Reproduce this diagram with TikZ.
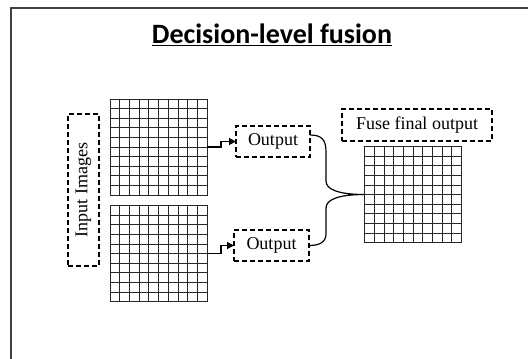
\documentclass[tikz,border=0pt]{standalone}
\usepackage{fontspec}
\setmainfont{Liberation Serif}
\newfontfamily\titlefont{Carlito}
\usetikzlibrary{calc,arrows.meta}
\begin{document}
\begin{tikzpicture}[x=1pt,y=-1pt,
  gridbox/.style={draw=black!85, line width=0.8pt, minimum width=97pt, minimum height=96pt, inner sep=0pt, outer sep=0pt},
  dbox/.style={draw, dash pattern=on 5pt off 3pt, line width=1.3pt, inner sep=0pt, outer sep=0pt},
  lbl/.style={font=\fontsize{18}{21}\selectfont, inner sep=0pt},
  conn/.style={line width=1.2pt},
  arr/.style={conn, -{Triangle[length=7pt,width=7pt]}}]
\useasboundingbox (0,0) rectangle (528,359);
\draw[line width=2.2pt, black!75] (11,359) -- (11,8) -- (528,8);
\node[font=\titlefont\bfseries\fontsize{28}{32}\selectfont, inner sep=0pt] (title) at (272,35) {\underline{Decision-level fusion}};
% grids
\node[gridbox] (g1) at (158.5,147) {};
\node[gridbox] (g2) at (158.5,253.5) {};
\node[gridbox] (g3) at (413,194.5) {};
\foreach \g in {g1,g2,g3}{
  \foreach \i in {1,...,9}{
    \draw[black!85, line width=0.8pt] ($(\g.north west)!\i/10!(\g.north east)$) -- ($(\g.south west)!\i/10!(\g.south east)$);
    \draw[black!85, line width=0.8pt] ($(\g.north west)!\i/10!(\g.south west)$) -- ($(\g.north east)!\i/10!(\g.south east)$);
  }
}
% dashed boxes
\node[dbox, minimum width=31pt, minimum height=152pt] (inp) at (83.5,190) {};
\node[lbl, rotate=90] (inptext) at (inp.center) {Input Images};
\node[dbox, minimum width=74pt, minimum height=31pt] (o1) at (273,141.5) {};
\node[lbl] (o1text) at (o1.center) {Output};
\node[dbox, minimum width=75pt, minimum height=31pt] (o2) at (271.5,245.5) {};
\node[lbl] (o2text) at (o2.center) {Output};
\node[dbox, minimum width=150pt, minimum height=32pt] (fuse) at (417,125) {};
\node[lbl] (fusetext) at (fuse.center) {Fuse final output};
% connectors
\draw[arr] (g1.east) -- ++(14,0) |- (o1.west);
\draw[arr] (g2.east) -- ++(14,0) |- (o2.west);
\coordinate (b1) at ($(o1.north east)+(0,9)$);
\draw[conn] (b1) .. controls (322,135) and (326,140) .. (326,152) -- (326,181)
  .. controls (326,190) and (340,194.5) .. (g3.west)
  .. controls (340,194.5) and (326,199) .. (326,208) -- (326,234)
  .. controls (326,243) and (318,245.5) .. (o2.east);
\end{tikzpicture}
\end{document}
